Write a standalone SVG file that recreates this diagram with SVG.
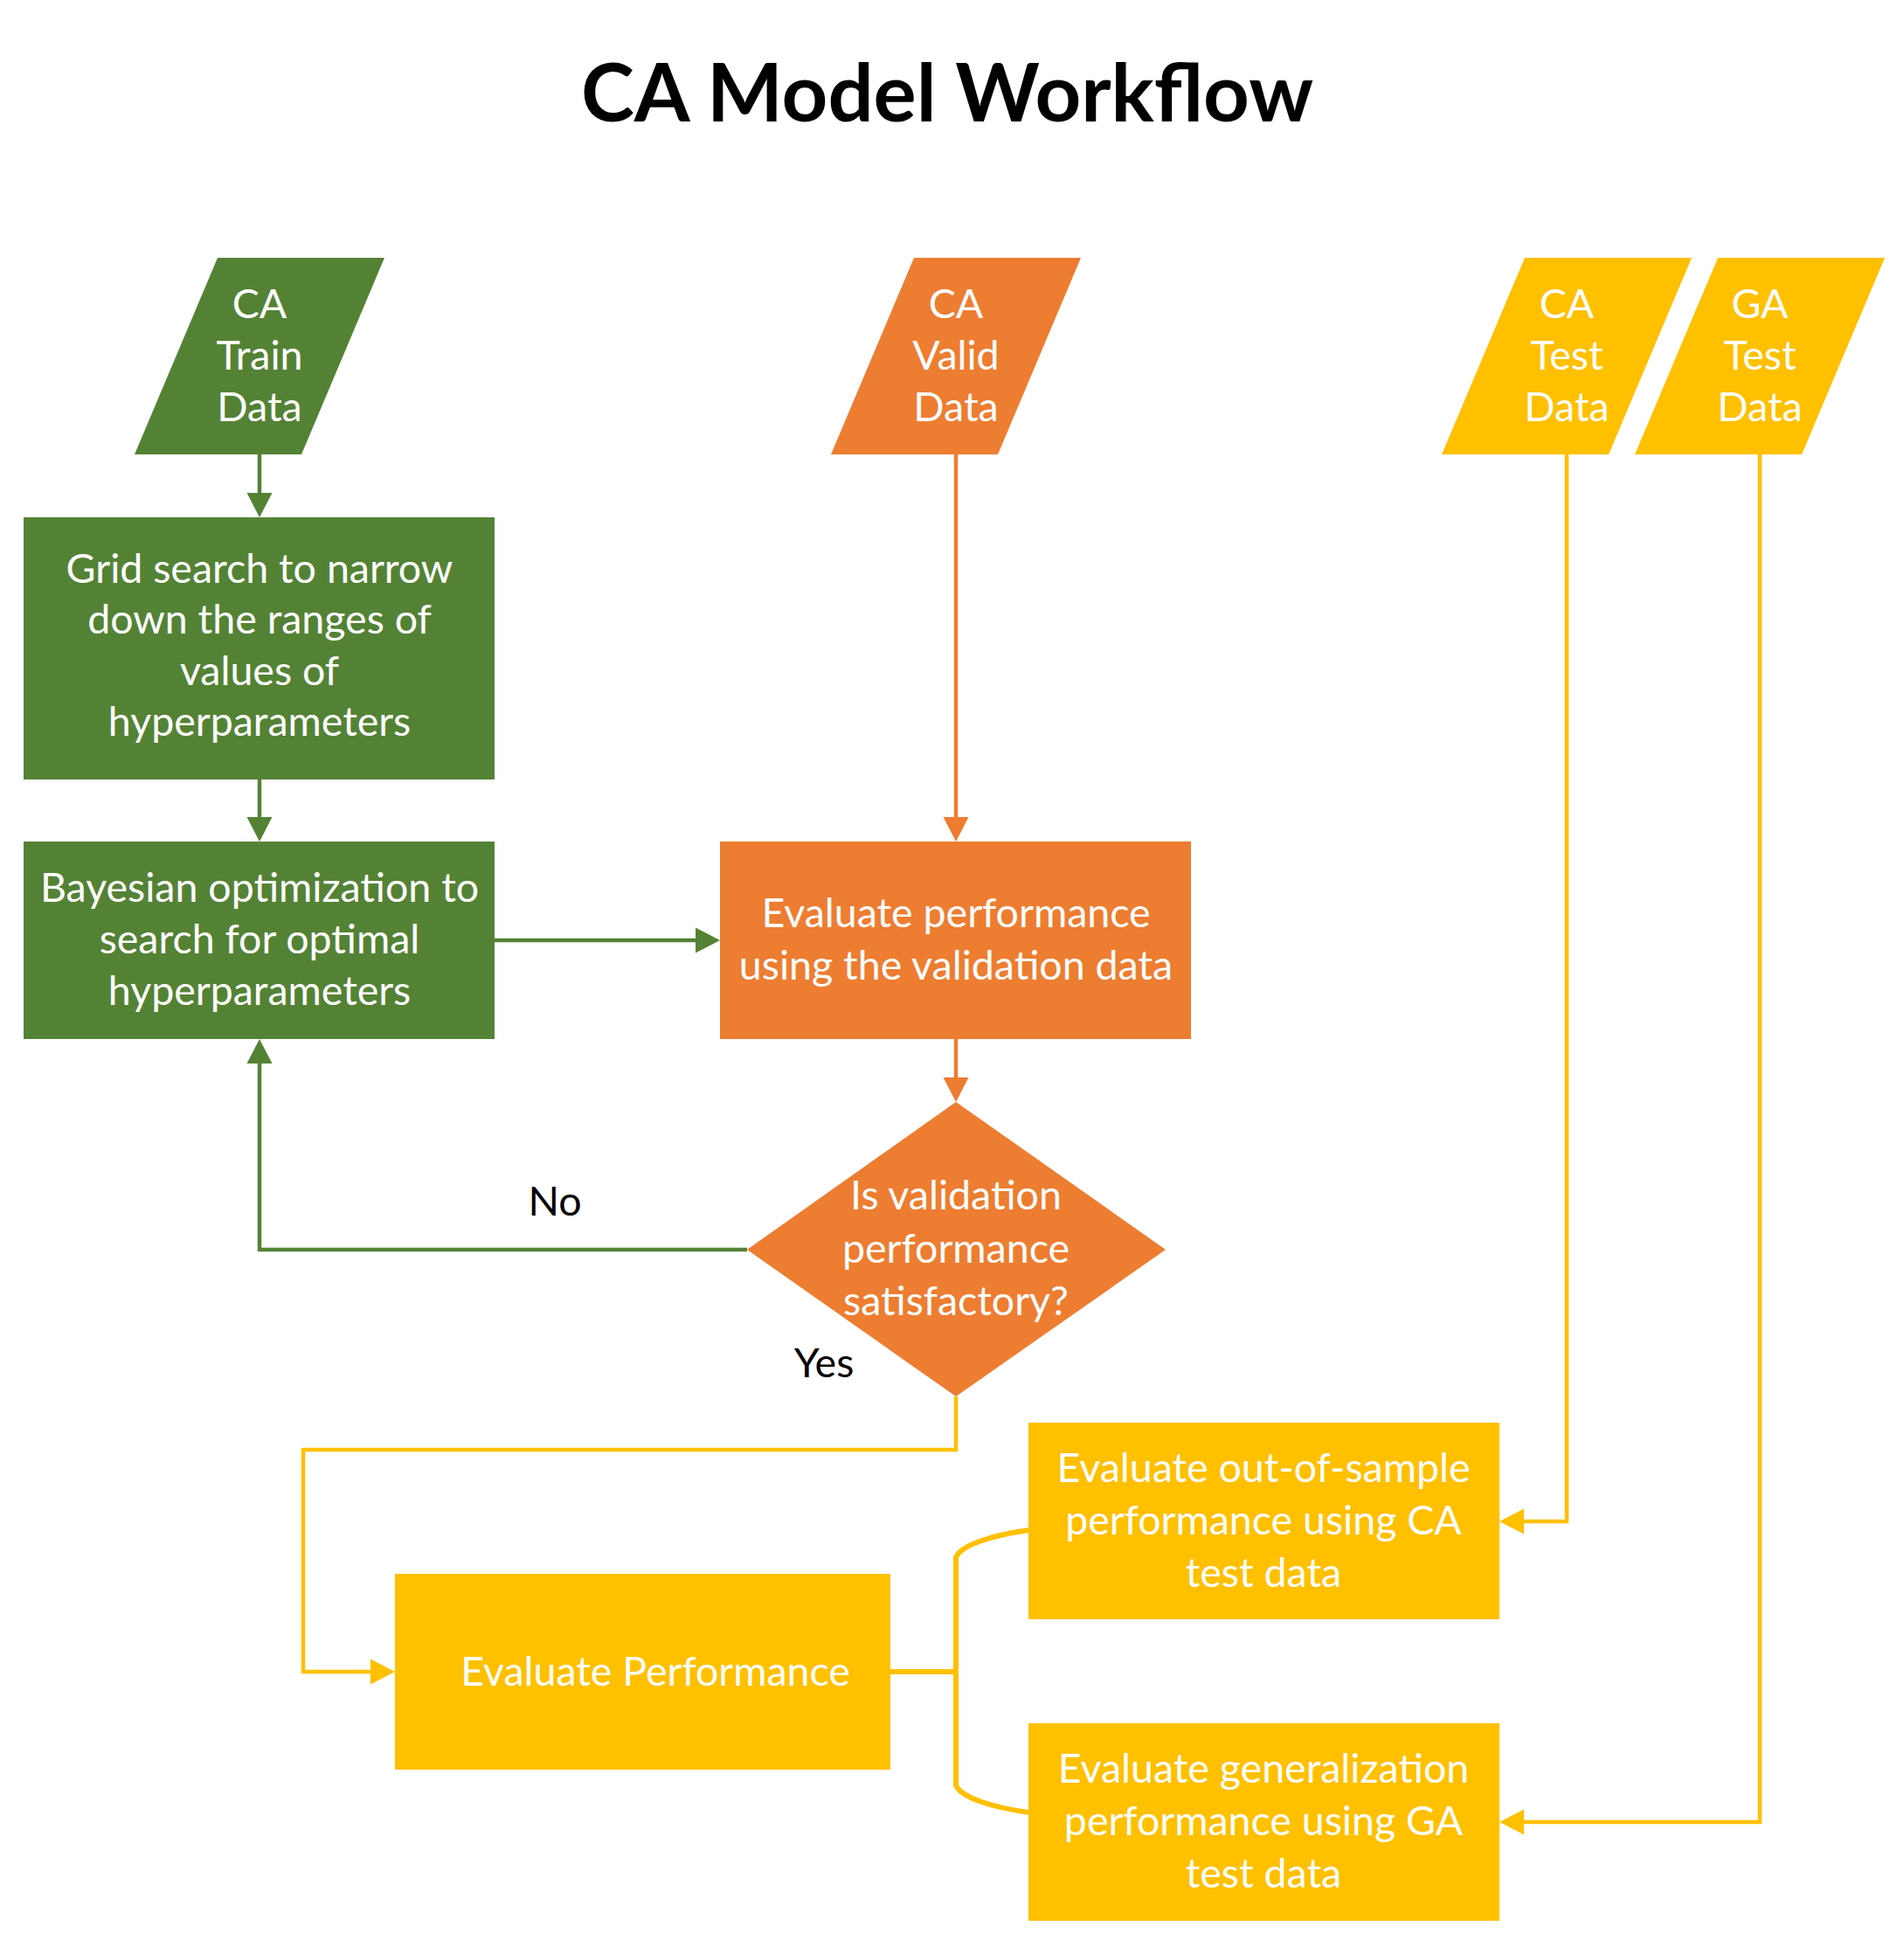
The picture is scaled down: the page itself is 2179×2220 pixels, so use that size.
<svg xmlns="http://www.w3.org/2000/svg" width="2179" height="2220" viewBox="0 0 2179 2220">
<style>
.t{font-family:Lato,"Open Sans",sans-serif;font-size:46.5px;fill:#ffffff;text-anchor:middle}
.lbl{font-family:Lato,"Open Sans",sans-serif;font-size:46.5px;fill:#000000;text-anchor:middle}
.title{font-family:Lato,"Open Sans",sans-serif;font-size:92px;font-weight:bold;fill:#000000;text-anchor:middle}
.g{fill:#548235}
.o{fill:#ED7D31}
.y{fill:#FFC000}
.cg{fill:none;stroke:#548235;stroke-width:4.5}
.co{fill:none;stroke:#ED7D31;stroke-width:4.5}
.cy{fill:none;stroke:#FFC000;stroke-width:4.5}
.cyb{fill:none;stroke:#FFC000;stroke-width:6}
</style>
<defs>
<marker id="ag" markerUnits="userSpaceOnUse" markerWidth="28" markerHeight="29" refX="0" refY="14.5" orient="auto" overflow="visible"><path d="M0,0 L28,14.5 L0,29 Z" fill="#548235"/></marker>
<marker id="ao" markerUnits="userSpaceOnUse" markerWidth="28" markerHeight="29" refX="0" refY="14.5" orient="auto" overflow="visible"><path d="M0,0 L28,14.5 L0,29 Z" fill="#ED7D31"/></marker>
<marker id="ay" markerUnits="userSpaceOnUse" markerWidth="28" markerHeight="29" refX="0" refY="14.5" orient="auto" overflow="visible"><path d="M0,0 L28,14.5 L0,29 Z" fill="#FFC000"/></marker>
</defs>
<rect width="2179" height="2220" fill="#ffffff"/>
<text class="title" x="1084" y="139">CA Model Workflow</text>

<g id="connectors">
<path class="cg" d="M297,520 V564" marker-end="url(#ag)"/>
<path class="cg" d="M297,892 V935" marker-end="url(#ag)"/>
<path class="cg" d="M566,1076 H796" marker-end="url(#ag)"/>
<path class="co" d="M1094,520 V935" marker-end="url(#ao)"/>
<path class="co" d="M1094,1189 V1233" marker-end="url(#ao)"/>
<path class="cg" d="M855,1430 H297 V1217" marker-end="url(#ag)"/>
<path class="cy" d="M1094,1598 V1659 H347 V1913 H424" marker-end="url(#ay)"/>
<path class="cyb" d="M1019,1913 H1094"/>
<path class="cyb" d="M1177,1751 C1135,1757 1100,1768 1094,1782 V2043 C1100,2057 1135,2068 1177,2074"/>
<path class="cy" d="M1793,520 V1741 H1744" marker-end="url(#ay)"/>
<path class="cy" d="M2014,520 V2085 H1744" marker-end="url(#ay)"/>
<text class="lbl" x="635" y="1391">No</text>
<text class="lbl" x="943" y="1576">Yes</text>
</g>

<g id="ca-train">
<polygon class="g" points="249,295 440,295 345,520 154,520"/>
<text class="t" x="297" y="364">CA</text>
<text class="t" x="297" y="423">Train</text>
<text class="t" x="297" y="482">Data</text>
</g>
<g id="ca-valid">
<polygon class="o" points="1046,295 1237,295 1142,520 951,520"/>
<text class="t" x="1094" y="364">CA</text>
<text class="t" x="1094" y="423">Valid</text>
<text class="t" x="1094" y="482">Data</text>
</g>
<g id="ca-test">
<polygon class="y" points="1745,295 1936,295 1841,520 1650,520"/>
<text class="t" x="1793" y="364">CA</text>
<text class="t" x="1793" y="423">Test</text>
<text class="t" x="1793" y="482">Data</text>
</g>
<g id="ga-test">
<polygon class="y" points="1966,295 2157,295 2062,520 1871,520"/>
<text class="t" x="2014" y="364">GA</text>
<text class="t" x="2014" y="423">Test</text>
<text class="t" x="2014" y="482">Data</text>
</g>
<g id="grid-search">
<rect class="g" x="27" y="592" width="539" height="300"/>
<text class="t" x="297" y="667">Grid search to narrow</text>
<text class="t" x="297" y="725">down the ranges of</text>
<text class="t" x="297" y="784">values of</text>
<text class="t" x="297" y="842">hyperparameters</text>
</g>
<g id="bayesian">
<rect class="g" x="27" y="963" width="539" height="226"/>
<text class="t" x="297" y="1032">Bayesian optimization to</text>
<text class="t" x="297" y="1091">search for optimal</text>
<text class="t" x="297" y="1150">hyperparameters</text>
</g>
<g id="eval-valid">
<rect class="o" x="824" y="963" width="539" height="226"/>
<text class="t" x="1094" y="1061">Evaluate performance</text>
<text class="t" x="1094" y="1121">using the validation data</text>
</g>
<g id="decision">
<polygon class="o" points="1094,1261 1334,1430 1094,1598 855,1430"/>
<text class="t" x="1094" y="1384">Is validation</text>
<text class="t" x="1094" y="1445">performance</text>
<text class="t" x="1094" y="1505">satisfactory?</text>
</g>
<g id="eval-perf">
<rect class="y" x="452" y="1801" width="567" height="224"/>
<text class="t" x="750" y="1929">Evaluate Performance</text>
</g>
<g id="eval-oos">
<rect class="y" x="1177" y="1628" width="539" height="225"/>
<text class="t" x="1446" y="1696">Evaluate out-of-sample</text>
<text class="t" x="1446" y="1756">performance using CA</text>
<text class="t" x="1446" y="1816">test data</text>
</g>
<g id="eval-gen">
<rect class="y" x="1177" y="1972" width="539" height="226"/>
<text class="t" x="1446" y="2040">Evaluate generalization</text>
<text class="t" x="1446" y="2100">performance using GA</text>
<text class="t" x="1446" y="2160">test data</text>
</g>
</svg>
